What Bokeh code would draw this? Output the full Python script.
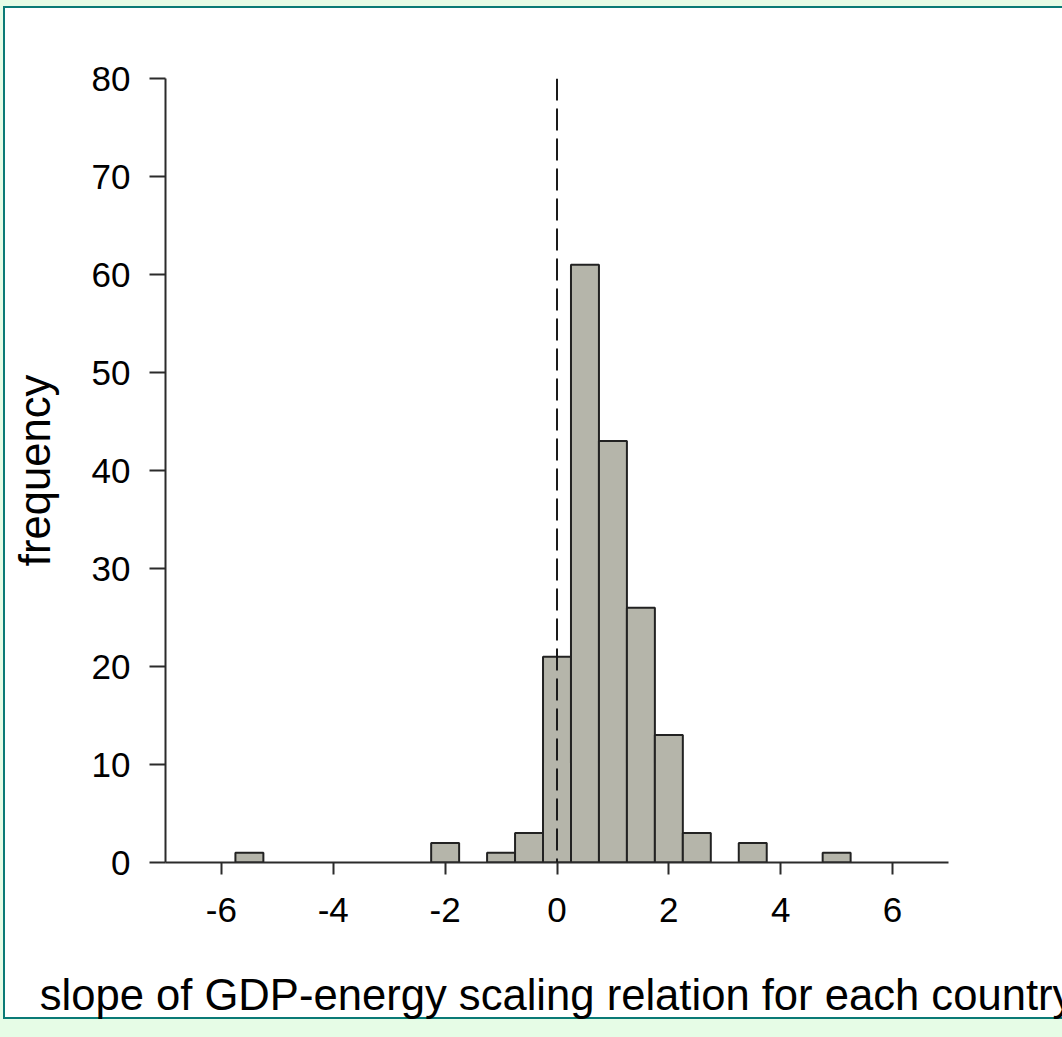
from bokeh.plotting import figure
from bokeh.models import Range1d, FixedTicker, Span, GlobalInlineStyleSheet
from bokeh.embed import file_html
from bokeh.resources import INLINE

# ---- data ----
bin_centers = [-5.5, -2.0, -1.0, -0.5, 0.0, 0.5, 1.0, 1.5, 2.0, 2.5, 3.5, 5.0]
counts = [1, 2, 1, 3, 21, 61, 43, 26, 13, 3, 2, 1]
bin_width = 0.5
x_ticks = [-6, -4, -2, 0, 2, 4, 6]
y_ticks = [0, 10, 20, 30, 40, 50, 60, 70, 80]
x_label = "slope of GDP-energy scaling relation for each country"
y_label = "frequency"
ref_line_x = 0

FONT = "Liberation Sans"
INK = "#2b2b2b"
GREEN = "#e6fce6"
TEAL = "#0a7a76"

# page: light green background with a white panel framed in teal (drawn behind the transparent canvas)
page_css = (
    "html,body{margin:0;padding:0;overflow:hidden;}"
    "body{background:"
    "linear-gradient(#ffffff,#ffffff) 5px 8px / 2000px 1009px no-repeat,"
    f"linear-gradient({TEAL},{TEAL}) 3px 6px / 2000px 1013px no-repeat,"
    f"{GREEN};}}"
)

p = figure(
    width=1062, height=1037,
    output_backend="svg", toolbar_location=None,
    x_range=Range1d(-7, 7), y_range=Range1d(0, 80),
    min_border_left=165, min_border_right=114,
    min_border_top=78, min_border_bottom=175,
    background_fill_color=None, border_fill_color=None,
    outline_line_color=None,
)
p.stylesheets = [GlobalInlineStyleSheet(css=page_css)]

p.grid.visible = False

left_edges = [c - bin_width / 2 for c in bin_centers]
right_edges = [c + bin_width / 2 for c in bin_centers]
p.quad(left=left_edges, right=right_edges, bottom=0, top=counts,
       fill_color="#b5b5aa", line_color="#222222", line_width=2)

p.add_layout(Span(location=ref_line_x, dimension="height", line_color="#1a1a1a",
                  line_width=2, line_dash="22 8"))

for ax in (p.xaxis[0], p.yaxis[0]):
    ax.axis_line_color = INK
    ax.axis_line_width = 2
    ax.major_tick_line_color = INK
    ax.major_tick_line_width = 2
    ax.major_tick_in = 0
    ax.minor_tick_line_color = None
    ax.major_label_text_font = FONT
    ax.major_label_text_font_size = "35px"
    ax.major_label_text_color = "black"
    ax.axis_label_text_font = FONT
    ax.axis_label_text_font_size = "43.6px"
    ax.axis_label_text_font_style = "normal"
    ax.axis_label_text_color = "black"

p.xaxis[0].ticker = FixedTicker(ticks=x_ticks)
p.yaxis[0].ticker = FixedTicker(ticks=y_ticks)
p.xaxis[0].major_label_overrides = {t: str(t) for t in x_ticks}
p.xaxis[0].major_tick_out = 12
p.yaxis[0].major_tick_out = 16
p.xaxis[0].major_label_standoff = 23
p.yaxis[0].major_label_standoff = 19
p.xaxis[0].axis_label = x_label
p.yaxis[0].axis_label = y_label
p.xaxis[0].axis_label_standoff = 46
p.yaxis[0].axis_label_standoff = 30

open("out.html", "w").write(file_html(p, INLINE))
